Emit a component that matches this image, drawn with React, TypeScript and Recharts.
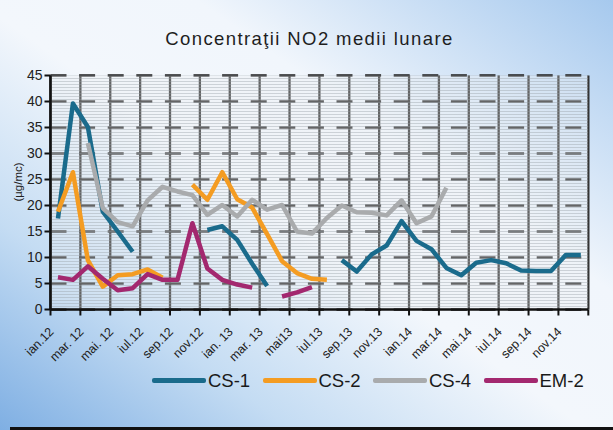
import React from "react";
import { CartesianGrid, Legend, Line, LineChart, ReferenceArea, XAxis, YAxis } from "recharts";

const months = [
  "ian.12", "feb.12", "mar.12", "apr.12", "mai.12", "iun.12", "iul.12", "aug.12", "sep.12", "oct.12", "nov.12", "dec.12",
  "ian.13", "feb.13", "mar.13", "apr.13", "mai.13", "iun.13", "iul.13", "aug.13", "sep.13", "oct.13", "nov.13", "dec.13",
  "ian.14", "feb.14", "mar.14", "apr.14", "mai.14", "iun.14", "iul.14", "aug.14", "sep.14", "oct.14", "nov.14", "dec.14",
];

// one label every second month, as in the original
const tickLabels = [
  "ian.12", "mar. 12", "mai. 12", "iul.12", "sep.12", "nov.12", "ian. 13", "mar. 13", "mai13",
  "iul.13", "sep.13", "nov.13", "ian.14", "mar.14", "mai.14", "iul.14", "sep.14", "nov.14",
];

const yTicks = [0, 5, 10, 15, 20, 25, 30, 35, 40, 45];

const cs1 = [
  17.5, 39.6, 35.1, 18.8, 15, 11.1, null, null, null, null, 15.3, 16,
  13.4, 8.8, 4.5, null, null, null, null, 9.5, 7.3, 10.6, 12.3, 17,
  13.2, 11.6, 8, 6.6, 9, 9.5, 8.9, 7.5, 7.4, 7.4, 10.5, 10.5,
];
const cs2 = [
  18.8, 26.4, 9.5, 4.4, 6.6, 6.8, 7.7, 6.1, null, 24, 21.1, 26.4,
  21.2, 19.6, 14.5, 9.3, 7, 5.9, 5.7, null, null, null, null, null,
  null, null, null, null, null, null, null, null, null, null, null, null,
];
const cs4 = [
  null, null, 32, 19.5, 16.8, 16, 21, 23.6, 22.7, 22, 18.2, 20.1,
  17.9, 21.1, 19.2, 20.1, 15, 14.6, 17.6, 20, 18.7, 18.6, 18.1, 21,
  16.6, 17.9, 23.4, null, null, null, null, null, null, null, null, null,
];
const em2 = [
  6.2, 5.7, 8.3, 5.9, 3.7, 4.1, 6.8, 5.7, 5.7, 16.6, 7.9, 5.7,
  4.8, 4.2, null, 2.5, 3.3, 4.3, null, null, null, null, null, null,
  null, null, null, null, null, null, null, null, null, null, null, null,
];

const series = [
  { key: "cs1", name: "CS-1", color: "#1a6b8c" },
  { key: "cs2", name: "CS-2", color: "#f49c22" },
  { key: "cs4", name: "CS-4", color: "#a9abad" },
  { key: "em2", name: "EM-2", color: "#a3286f" },
];

const data = months.map((m, i) => ({
  x: i + 0.5,
  month: m,
  cs1: cs1[i],
  cs2: cs2[i],
  cs4: cs4[i],
  em2: em2[i],
}));

const xTicks = tickLabels.map((_, i) => i * 2).concat(months.length);

const font = "'Liberation Sans', Arial, sans-serif";
const gridColor = "#1c1c1c";

// chart layout
const W = 613;
const H = 430;
const margin = { top: 75.5, right: 24.7, left: 0, bottom: 38.5 };
const xAxisHeight = 60;
const legendHeight = 22;
const plotHeight = H - margin.top - margin.bottom - xAxisHeight - legendHeight;

type GridLineProps = { x1: number; y1: number; x2: number; y2: number; index: number };

function hLine(p: GridLineProps) {
  return (
    <line
      key={`h-${p.index}`}
      x1={p.x1}
      y1={p.y1}
      x2={p.x2}
      y2={p.y2}
      stroke={gridColor}
      strokeWidth={2.3}
      strokeDasharray="16 12.6"
    />
  );
}

function vLine(p: GridLineProps) {
  return <line key={`v-${p.index}`} x1={p.x1} y1={p.y1} x2={p.x2} y2={p.y2} stroke={gridColor} strokeWidth={2.3} />;
}

// vertical grid every two months, placed with the x axis scale
function verticalAt({ xAxis, offset }: any) {
  if (xAxis && typeof xAxis.scale === "function") return xTicks.map((v) => xAxis.scale(v));
  return xTicks.map((v) => offset.left + (v / months.length) * offset.width);
}

function MonthTick({ x, y, payload }: { x: number; y: number; payload: { value: number } }) {
  const label = tickLabels[payload.value / 2] ?? "";
  const ax = x + 4;
  const ay = y + 15;
  return (
    <text
      x={ax}
      y={ay}
      transform={`rotate(-45 ${ax} ${ay})`}
      textAnchor="end"
      fontSize={12.5}
      fill="#222"
      fontFamily={font}
    >
      {label}
    </text>
  );
}

function LegendRow() {
  return (
    <div style={{ display: "flex", fontFamily: font }}>
      {series.map((s) => (
        <div key={s.key} style={{ width: 110.5, display: "flex", alignItems: "center" }}>
          <div style={{ width: 54, height: 5, background: s.color, borderRadius: 2 }} />
          <span style={{ marginLeft: 2, fontSize: 18.5, color: "#1a1a1a", lineHeight: "22px" }}>{s.name}</span>
        </div>
      ))}
    </div>
  );
}

export default function App() {
  return (
    <div
      style={{
        position: "absolute",
        left: 0,
        top: 0,
        width: W,
        height: H,
        overflow: "hidden",
        background:
          "linear-gradient(to top right, #7fafe3 0%, #c4dcf3 24%, #f3f7fc 48%, #f1f6fc 66%, #a6c9ee 100%)",
      }}
    >
      {/* hatch pattern for the plot area, referenced by id from the chart svg */}
      <svg width={0} height={0} style={{ position: "absolute" }}>
        <defs>
          <pattern id="hatch" width="6" height="3" patternUnits="userSpaceOnUse">
            <rect width="6" height="3" fill="rgba(236,239,242,0.35)" />
            <rect width="6" height="1" fill="rgba(150,158,166,0.4)" />
          </pattern>
        </defs>
      </svg>
      <div style={{ position: "absolute", left: 10, right: 0, bottom: 0, height: 3, background: "#111" }} />
      <LineChart width={W} height={H} data={data} margin={margin}>
        <ReferenceArea
          x1={0}
          x2={months.length}
          y1={0}
          y2={45}
          fill="url(#hatch)"
          fillOpacity={1}
          stroke="none"
          ifOverflow="visible"
        />
        <CartesianGrid
          y={margin.top}
          height={plotHeight}
          horizontal={hLine}
          vertical={vLine}
          verticalCoordinatesGenerator={verticalAt}
        />
        <XAxis
          type="number"
          dataKey="x"
          domain={[0, months.length]}
          ticks={xTicks}
          interval={0}
          height={xAxisHeight}
          tick={MonthTick}
          tickSize={6}
          axisLine={{ stroke: "#111", strokeWidth: 2.5 }}
          tickLine={{ stroke: "#111", strokeWidth: 2 }}
        />
        <YAxis
          type="number"
          domain={[0, 45]}
          ticks={yTicks}
          interval={0}
          width={50.5}
          tickSize={6}
          tickMargin={2}
          tick={{ fontSize: 14, fill: "#222", fontFamily: font }}
          axisLine={{ stroke: "#111", strokeWidth: 2.5 }}
          tickLine={{ stroke: "#111", strokeWidth: 2 }}
        />
        {series.map((s) => (
          <Line
            key={s.key}
            type="linear"
            dataKey={s.key}
            name={s.name}
            stroke={s.color}
            strokeWidth={4.5}
            strokeLinejoin="round"
            dot={false}
            activeDot={false}
            isAnimationActive={false}
          />
        ))}
        <Legend
          verticalAlign="bottom"
          content={() => <LegendRow />}
          wrapperStyle={{ left: 152, width: 450, height: legendHeight }}
        />
      </LineChart>
      <div
        style={{
          position: "absolute",
          left: 0,
          width: W,
          top: 29,
          height: 20,
          lineHeight: "20px",
          textAlign: "center",
          paddingLeft: 3,
          fontFamily: font,
          fontSize: 18.5,
          letterSpacing: 1.4,
          color: "#1e1e1e",
        }}
      >
        Concentraţii NO2 medii lunare
      </div>
      <div
        style={{
          position: "absolute",
          left: 8,
          top: 182,
          transform: "translate(-50%, -50%) rotate(-90deg) translate(0, 10px)",
          fontFamily: font,
          fontSize: 11.5,
          color: "#222",
          whiteSpace: "nowrap",
        }}
      >
        (µg/mc)
      </div>
    </div>
  );
}
